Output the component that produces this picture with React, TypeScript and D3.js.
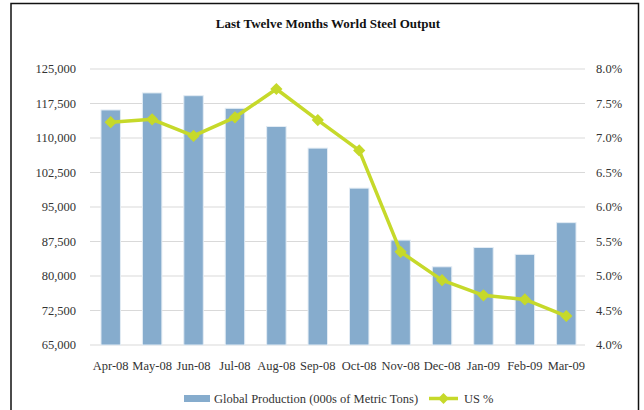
import React from "react";
import * as d3 from "d3";

const months = ["Apr-08","May-08","Jun-08","Jul-08","Aug-08","Sep-08","Oct-08","Nov-08","Dec-08","Jan-09","Feb-09","Mar-09"];
const production = [116100,119800,119200,116450,112500,107800,99100,87800,82000,86200,84700,91600];
const usPct = [7.23,7.27,7.03,7.30,7.71,7.26,6.82,5.35,4.94,4.72,4.66,4.42];
const leftTicks = [65000,72500,80000,87500,95000,102500,110000,117500,125000];
const rightTicks = [4.0,4.5,5.0,5.5,6.0,6.5,7.0,7.5,8.0];

const W = 644, H = 410;
const left = 90, right = 587, top = 69, bottom = 345;
const barColor = "#86ACCD";
const lineColor = "#C6D92A";
const font = "Liberation Serif, Times New Roman, serif";

export default function App() {
  const x = d3.scaleBand<string>().domain(months).range([left, right]).paddingInner(0.53).paddingOuter(0.265);
  const yL = d3.scaleLinear().domain([65000, 125000]).range([bottom, top]);
  const yR = d3.scaleLinear().domain([4, 8]).range([bottom, top]);
  const cx = (m: string) => (x(m) ?? 0) + x.bandwidth() / 2;
  const line = d3.line<number>().x((_, i) => cx(months[i])).y(d => yR(d));
  const fmt = d3.format(",");
  const diamond = d3.symbol().type(d3.symbolDiamond2).size(95)();
  const diamondSm = d3.symbol().type(d3.symbolDiamond2).size(75)();
  const txt = { fontFamily: font, fill: "#333" } as React.CSSProperties;

  return (
    <svg width={W} height={H} style={{ position: "absolute", left: 0, top: 0, background: "#fff", fontFamily: font }}>
      <rect x={0} y={0} width={W} height={H} fill="#fff" />
      <rect x={11} y={3.5} width={627.5} height={420} fill="none" stroke="#111" strokeWidth={1.5} />
      <text x={328} y={28} textAnchor="middle" fontSize={13} fontWeight="bold" style={{ ...txt, fill: "#111" }}>Last Twelve Months World Steel Output</text>
      {leftTicks.map(t => (
        <g key={"g" + t}>
          <line x1={left} x2={right - 2} y1={yL(t)} y2={yL(t)} stroke="#D9D9D9" strokeWidth={1} />
          <text x={76} y={yL(t)} dy="0.35em" textAnchor="end" fontSize={12.5} style={txt}>{fmt(t)}</text>
        </g>
      ))}
      {rightTicks.map(t => (
        <text key={"r" + t} x={596} y={yR(t)} dy="0.35em" textAnchor="start" fontSize={12.5} style={txt}>{t.toFixed(1) + "%"}</text>
      ))}
      {months.map((m, i) => (
        <rect key={m} x={x(m)} y={yL(production[i])} width={x.bandwidth()} height={yL(65000) - yL(production[i])}
          fill={barColor} stroke="#E3ECF4" strokeWidth={1} />
      ))}
      <path d={line(usPct) ?? ""} fill="none" stroke={lineColor} strokeWidth={3.5} strokeLinejoin="round" />
      {usPct.map((v, i) => (
        <path key={"d" + i} d={diamond ?? ""} transform={`translate(${cx(months[i])},${yR(v)})`} fill={lineColor} />
      ))}
      {months.map(m => (
        <text key={"l" + m} x={cx(m)} y={366} dy="0.35em" textAnchor="middle" fontSize={12.5} style={txt}>{m}</text>
      ))}
      <rect x={184} y={395} width={26} height={7} fill={barColor} />
      <text x={214} y={398.5} dy="0.35em" fontSize={12.5} style={txt}>Global Production (000s of Metric Tons)</text>
      <line x1={429} x2={458} y1={398.5} y2={398.5} stroke={lineColor} strokeWidth={3.5} />
      <path d={diamondSm ?? ""} transform="translate(443.5,398.5)" fill={lineColor} />
      <text x={464} y={398.5} dy="0.35em" fontSize={12.5} style={txt}>US %</text>
    </svg>
  );
}
